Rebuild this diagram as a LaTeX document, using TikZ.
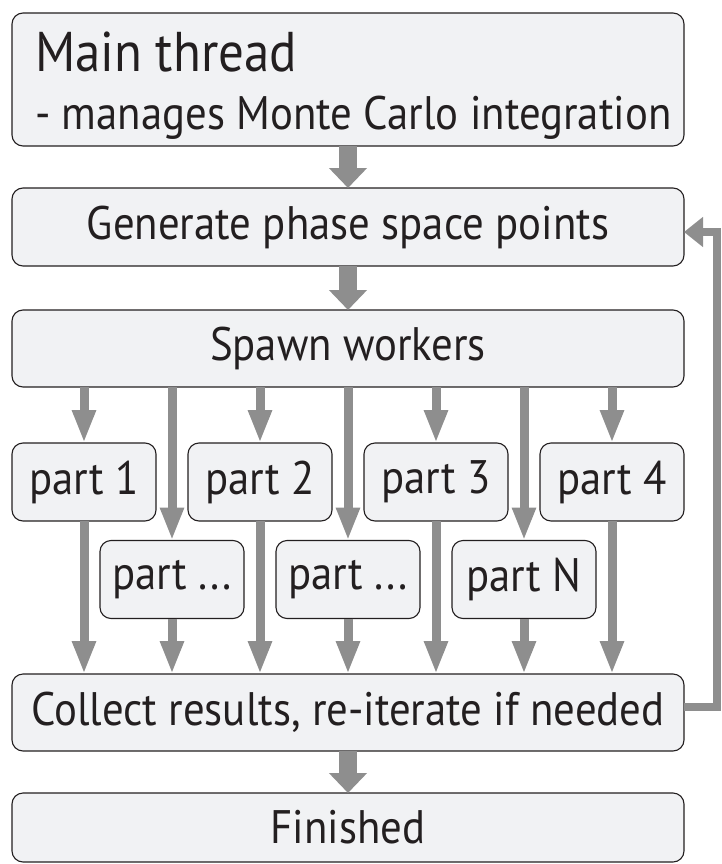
\documentclass[tikz,border=0pt]{standalone}
\usepackage{fontspec}
\setmainfont[FakeStretch=0.91]{PT Sans}
\usetikzlibrary{arrows.meta}
\definecolor{boxfill}{RGB}{241,242,244}
\definecolor{boxline}{RGB}{35,31,32}
\definecolor{arrowgray}{RGB}{142,142,142}
\begin{document}
\begin{tikzpicture}[x=1pt,y=-1pt,
  box/.style={draw=boxline, fill=boxfill, line width=1.1pt, rounded corners=11pt,
    inner sep=0pt, outer sep=0pt, text=boxline, font=\fontsize{47}{56}\selectfont},
  wide/.style={minimum width=672pt},
  partbox/.style={box, minimum width=144pt, minimum height=78pt},
  bigarrow/.style={draw=arrowgray, line width=18pt, -{Triangle[width=37pt,length=20pt]}},
  smallarrow/.style={draw=arrowgray, line width=9pt, -{Triangle[width=22pt,length=33pt]}},
  fbarrow/.style={draw=arrowgray, line width=8pt, line join=miter, -{Triangle[width=29pt,length=19pt]}},
  label/.style={anchor=base west, inner sep=0pt, text=boxline}
]
\useasboundingbox (0,0) rectangle (721,864);
% boxes
\node[box, wide, minimum height=133pt] (main) at (348,79.5) {};
\node[label, font=\fontsize{56}{62}\selectfont] (mt1) at (35,72) {Main thread};
\node[label, font=\fontsize{47}{56}\selectfont] (mt2) at (35,130) {- manages Monte Carlo integration};
\node[box, wide, minimum height=78pt] (gen) at (348,227) {Generate phase space points};
\node[box, wide, minimum height=77pt] (spawn) at (348,348.5) {Spawn workers};
\node[partbox] (p1) at (84,482) {part 1};
\node[partbox] (p2) at (260,482) {part 2};
\node[partbox] (p3) at (436,482) {part 3};
\node[partbox] (p4) at (612,482) {part 4};
\node[partbox] (pa) at (172,579.5) {part ...};
\node[partbox] (pb) at (348,579.5) {part ...};
\node[partbox] (pn) at (524,579.5) {part N};
\node[box, wide, minimum height=77pt] (collect) at (348,712.5) {Collect results, re-iterate if needed};
\node[box, wide, minimum height=69pt] (fin) at (348,827.5) {Finished};
% arrows
\draw[bigarrow] (main.south) -- (gen.north);
\draw[bigarrow] (gen.south) -- (spawn.north);
\draw[bigarrow] (collect.south) -- (fin.north);
\foreach \p in {p1,p2,p3,p4,pa,pb,pn}{
  \draw[smallarrow] (spawn.south -| \p.north) -- (\p.north);
  \draw[smallarrow] (\p.south) -- (\p.south |- collect.north);
}
\coordinate (fbA) at (716.5,707);
\coordinate (fbB) at (716.5,232);
\draw[fbarrow] (collect.east |- fbA) -- (fbA) -- (fbB) -- (gen.east |- fbB);
\end{tikzpicture}
\end{document}
